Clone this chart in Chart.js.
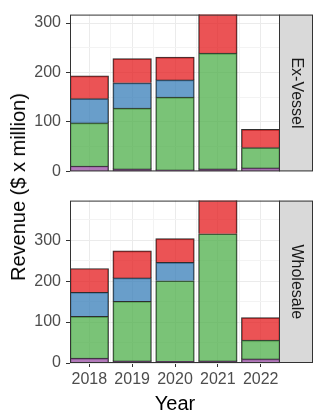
<!DOCTYPE html>
<html><head><meta charset="utf-8">
<script src="https://cdn.jsdelivr.net/npm/chart.js@4"></script>
<style>
html,body{margin:0;padding:0;background:#fff;overflow:hidden;}
#wrap{position:relative;width:322px;height:412px;overflow:hidden;background:#fff;}
canvas{position:absolute;left:0;}
#ytitle{position:absolute;left:18px;top:187px;transform:translate(-50%,-50%) rotate(-90deg);white-space:nowrap;font:20px "Liberation Sans",Arial,sans-serif;line-height:1;color:#000;}
</style></head><body>
<div id="wrap">
<canvas id="cTop" width="322" height="186" style="top:0"></canvas>
<canvas id="cBot" width="322" height="230" style="top:186px"></canvas>
<div id="ytitle">Revenue ($ x million)</div>
</div>
<script>
const years = [2018, 2019, 2020, 2021, 2022];
const seriesNames = ['Series 1', 'Series 2', 'Series 3', 'Series 4'];

const exVesselPurple = [11, 5, 3, 5, 7];
const exVesselGreen  = [87, 123, 147, 234, 41];
const exVesselBlue   = [49, 51, 35, null, null];
const exVesselRed    = [46, 49, 46, 90, 37];

const wholesalePurple = [12, 5, 4, 5, 10];
const wholesaleGreen  = [102, 146, 197, 311, 46];
const wholesaleBlue   = [59, 57, 45, null, null];
const wholesaleRed    = [58, 66, 58, 100, 55];

const yMajorTicks = [0, 100, 200, 300];
const facetLabels = ['Ex-Vessel', 'Wholesale'];
const facetYMax = [317, 397];

const FONT = '"Liberation Sans", Arial, sans-serif';
const fills = ['rgba(152,78,163,0.75)', 'rgba(77,175,74,0.75)', 'rgba(55,126,184,0.75)', 'rgba(228,26,28,0.75)'];

const xTickValues = years.flatMap((y, i) => i < years.length - 1 ? [y, (y + years[i + 1]) / 2] : [y]);
const isYear = v => years.includes(v);

const facetPlugin = {
  id: 'facet',
  afterDraw(chart, args, opts) {
    const {ctx, chartArea: a} = chart;
    const w = opts.width;
    ctx.save();
    ctx.fillStyle = '#d9d9d9';
    ctx.fillRect(a.right, a.top, w, a.bottom - a.top);
    ctx.strokeStyle = '#333333';
    ctx.lineWidth = 1;
    ctx.strokeRect(a.left + 0.5, a.top + 0.5, a.right - a.left - 1, a.bottom - a.top - 1);
    ctx.strokeRect(a.right - 0.5, a.top + 0.5, w, a.bottom - a.top - 1);
    ctx.translate(a.right + w / 2, (a.top + a.bottom) / 2);
    ctx.rotate(Math.PI / 2);
    ctx.fillStyle = '#1a1a1a';
    ctx.font = '16px ' + FONT;
    ctx.textAlign = 'center';
    ctx.textBaseline = 'middle';
    ctx.fillText(opts.label, 0, 0);
    ctx.restore();
  }
};

function makeChart(id, label, seriesValues, yMax, showX, padTop, xHeight) {
  return new Chart(document.getElementById(id), {
    type: 'bar',
    data: {
      datasets: seriesValues.map((vals, k) => ({
        label: seriesNames[k],
        data: years.map((yr, i) => ({x: yr, y: vals[i]})),
        backgroundColor: fills[k],
        borderColor: 'rgba(25,25,25,0.9)',
        borderWidth: 1,
        borderSkipped: 'start',
        barThickness: 'flex',
        categoryPercentage: 1,
        barPercentage: 0.9,
        stack: 's'
      }))
    },
    options: {
      responsive: false,
      animation: false,
      devicePixelRatio: 1,
      layout: {padding: {top: padTop, right: 42, left: 0, bottom: 0}},
      plugins: {
        legend: {display: false},
        tooltip: {enabled: false},
        facet: {label: label, width: 33}
      },
      scales: {
        x: {
          type: 'linear',
          min: years[0] - 0.45,
          max: years[years.length - 1] + 0.45,
          offset: false,
          stacked: true,
          afterBuildTicks: s => { s.ticks = xTickValues.map(v => ({value: v})); },
          afterFit: s => { s.height = xHeight; },
          border: {display: false},
          grid: {
            offset: false,
            color: c => isYear(c.tick.value) ? '#ebebeb' : '#f3f3f3',
            lineWidth: 1,
            drawTicks: showX,
            tickLength: 4,
            tickWidth: 1,
            tickColor: c => isYear(c.tick.value) ? '#333333' : 'rgba(0,0,0,0)'
          },
          ticks: {
            display: showX,
            autoSkip: false,
            maxRotation: 0,
            padding: 3,
            color: '#4d4d4d',
            font: {size: 16, family: FONT},
            callback: v => isYear(v) ? String(v) : ''
          },
          title: {
            display: showX,
            text: 'Year',
            color: '#000000',
            font: {size: 20, family: FONT},
            padding: {top: 0, bottom: 0}
          }
        },
        y: {
          stacked: true,
          min: 0,
          max: yMax,
          afterFit: s => { s.width = 70; },
          border: {display: false},
          grid: {
            color: c => yMajorTicks.includes(c.tick.value) ? '#ebebeb' : '#f3f3f3',
            lineWidth: 1,
            tickLength: 4,
            tickWidth: 1,
            tickColor: c => yMajorTicks.includes(c.tick.value) ? '#333333' : 'rgba(0,0,0,0)'
          },
          ticks: {
            stepSize: 50,
            includeBounds: false,
            padding: 5,
            color: '#4d4d4d',
            font: {size: 16, family: FONT},
            callback: v => yMajorTicks.includes(v) ? String(v) : ''
          }
        }
      }
    },
    plugins: [facetPlugin]
  });
}

makeChart('cTop', facetLabels[0], [exVesselPurple, exVesselGreen, exVesselBlue, exVesselRed], facetYMax[0], false, 10, 4);
makeChart('cBot', facetLabels[1], [wholesalePurple, wholesaleGreen, wholesaleBlue, wholesaleRed], facetYMax[1], true, 6, 53);
</script>
</body></html>
